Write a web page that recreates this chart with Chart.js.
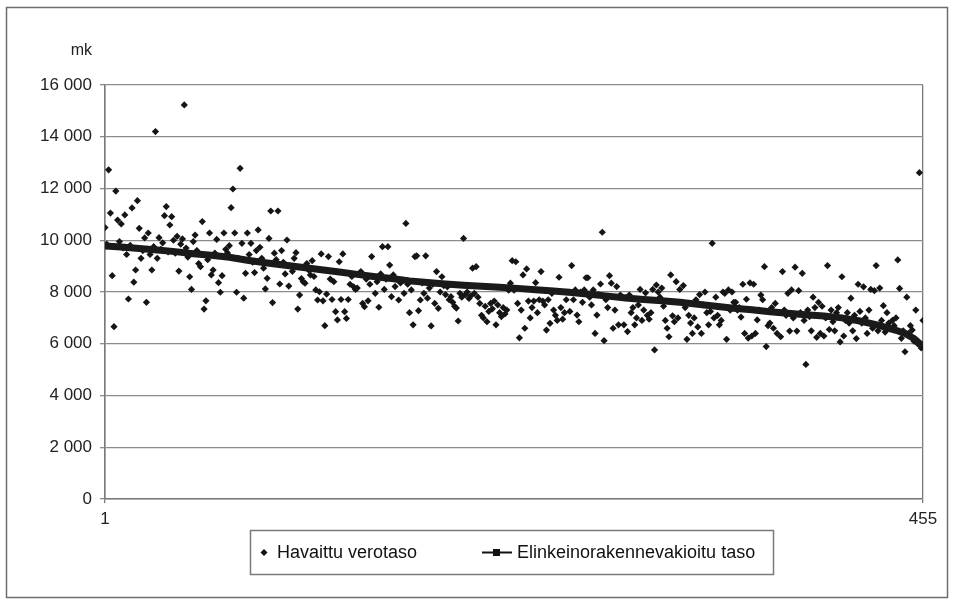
<!DOCTYPE html>
<html>
<head>
<meta charset="utf-8">
<script src="https://cdn.jsdelivr.net/npm/chart.js@4/dist/chart.umd.min.js"></script>
<style>
  html, body { margin: 0; padding: 0; background: #ffffff; }
  #wrap { width: 955px; height: 605px; position: relative; }
</style>
</head>
<body>
<div id="wrap"><canvas id="c" width="955" height="605"></canvas></div>
<script>
// ---- data ----
const seriesNames = ['Havaittu verotaso', 'Elinkeinorakennevakioitu taso'];
const unitLabel = 'mk';
const xTickValues = [1, 455];
const yMin = 0, yMax = 16000, yStep = 2000;

// observed tax level per municipality (rank 1..455)
const observed = [
10490, 9850, 12720, 11050, 8630, 6660, 11900, 10780, 9950, 10630,
9700, 10980, 9450, 7730, 9800, 11250, 8380, 8850, 11530, 10460,
9300, 9600, 10090, 7600, 10280, 9450, 8850, 9750, 14200, 9300,
10100, 9650, 9900, 10950, 11300, 9550, 10590, 10910, 10000, 9500,
10150, 8810, 9850, 10050, 15230, 9700, 9350, 8590, 8100, 9950,
10200, 9600, 9100, 8980, 10720, 7340, 7660, 9250, 10280, 8660,
8850, 9500, 10030, 8360, 7990, 8630, 10280, 9650, 9510, 9790,
11260, 11980, 10280, 7990, 9300, 12780, 9880, 7760, 8720, 10280,
9450, 9880, 9150, 8750, 9600, 10400, 9730, 9300, 8920, 8120,
8530, 10070, 11130, 7590, 9500, 9250, 11130, 8310, 9600, 9150,
8700, 10010, 8230, 9000, 8800, 9300, 9520, 7340, 7880, 8520,
8400, 8340, 9100, 8850, 8660, 9210, 8600, 8080, 7690, 8010,
9470, 7660, 6700, 7920, 9370, 8500, 7710, 8400, 7240, 6920,
9170, 7710, 9470, 7240, 6980, 7710, 8300, 8600, 8200, 8100,
8150, 8700, 8790, 7560, 7430, 8500, 7660, 8300, 9370, 8600,
7950, 8400, 7410, 8700, 9750, 8100, 8500, 9750, 9040, 7820,
8660, 8210, 8500, 7690, 8350, 8460, 7950, 10650, 8300, 7200,
8080, 6730, 9370, 9400, 7280, 7690, 8350, 7950, 9400, 7760,
8150, 6690, 8300, 7560, 8790, 7370, 8000, 8590, 8250, 7900,
8200, 7700, 7820, 7600, 7450, 7380, 6880, 7950, 7800, 10070,
7900, 8000, 7750, 7850, 8920, 7950, 8980, 7800, 7560, 7100,
7000, 7450, 6850, 7250, 7560, 7350, 7650, 6730, 7500, 7200,
7050, 7400, 7150, 7300, 8070, 8340, 9210, 8070, 9170, 7560,
6230, 7300, 8660, 6600, 8890, 7650, 7000, 7400, 7650, 8360,
7200, 7700, 8790, 7650, 7500, 6530, 7700, 6790, 7950, 7300,
7100, 6900, 8570, 7400, 6950, 7200, 7700, 8000, 7250, 9020,
7700, 8080, 7110, 6850, 8000, 7600, 8080, 8550, 8550, 7800,
7500, 8080, 6400, 7110, 7900, 8310, 10310, 6120, 7700, 7400,
8630, 8340, 6600, 7300, 8210, 6730, 7880, 7800, 6730, 7770,
6470, 7880, 7200, 7400, 6730, 7000, 7500, 8100, 6900, 7300,
7970, 7100, 6950, 7200, 8100, 5760, 8270, 8000, 7800, 8150,
7450, 6900, 6600, 6270, 8660, 7080, 6850, 8400, 7000, 8100,
7600, 8250, 7400, 6170, 7100, 6800, 6400, 7000, 7700, 6650,
7900, 6400, 7500, 8000, 7200, 6730, 7250, 9880, 7000, 7800,
7100, 6730, 6900, 8000, 7950, 6170, 8080, 7300, 8000, 7600,
7600, 7300, 7400, 7030, 8300, 6400, 7720, 6220, 8350, 6300,
8300, 6400, 6920, 7300, 7880, 7700, 8980, 5890, 6700, 6800,
7400, 6600, 7560, 6400, 7200, 6270, 8790, 7300, 7100, 7950,
6490, 8080, 7000, 8960, 6490, 8050, 7200, 8720, 6900, 5200,
7300, 7050, 6500, 7800, 7400, 6250, 7600, 6400, 7450, 6300,
7000, 9020, 6550, 7300, 6850, 6500, 7200, 7400, 6070, 8590,
6300, 6900, 7200, 6800, 7760, 6500, 7100, 6200, 8300, 7250,
6800, 8200, 7000, 6400, 7300, 8100, 6600, 8050, 9020, 6500,
8150, 6900, 7470, 6450, 7200, 6800, 6600, 6900, 6700, 7000,
9240, 8140, 6210, 6500, 5690, 7800, 6400, 6700, 6530, 6100,
7300, 6000, 12610, 5840, 6900
];

// structure-adjusted level, read at sampled ranks
const adjustedRank = [1, 10, 20, 30, 40, 50, 60, 70, 80, 90, 100, 110, 120, 130, 140, 150, 160, 170, 180, 190,
  200, 210, 220, 230, 240, 250, 260, 270, 280, 290, 300, 310, 320, 330, 340, 350, 360, 370, 380, 390,
  400, 410, 420, 430, 440, 445, 450, 455];
const adjustedValue = [9780, 9740, 9680, 9620, 9560, 9480, 9420, 9340, 9230, 9130, 9040, 8960, 8870, 8780, 8690, 8600, 8520, 8430, 8370, 8310,
  8260, 8220, 8180, 8140, 8090, 8040, 7980, 7910, 7840, 7770, 7710, 7660, 7600, 7530, 7450, 7370, 7310, 7240, 7180, 7120,
  7070, 7000, 6880, 6720, 6520, 6400, 6200, 5900];

// ---- build chart ----
const FONT = "'Liberation Sans', Arial, Helvetica, sans-serif";
const scatterPts = observed.map((v, i) => ({ x: i + 1, y: v }));
const linePts = adjustedRank.map((r, i) => ({ x: r, y: adjustedValue[i] }));
const fmt = v => String(v).replace(/\B(?=(\d{3})+(?!\d))/g, ' ');

const framePlugin = {
  id: 'frame',
  beforeDraw(chart) {
    const ctx = chart.ctx;
    ctx.save();
    ctx.fillStyle = '#ffffff';
    ctx.fillRect(0, 0, chart.width, chart.height);
    ctx.restore();
  },
  afterDraw(chart) {
    const ctx = chart.ctx;
    ctx.save();
    // outer frame
    ctx.strokeStyle = '#6e6e6e';
    ctx.lineWidth = 1.5;
    ctx.strokeRect(6.5, 7.5, 941, 590);
    // unit label
    ctx.fillStyle = '#222';
    ctx.font = '16px ' + FONT;
    ctx.textAlign = 'right';
    ctx.textBaseline = 'middle';
    ctx.fillText(unitLabel, 92, 51);
    // legend
    const lx = 250.5, ly = 530.5, lw = 523, lh = 44;
    ctx.strokeStyle = '#7a7a7a';
    ctx.lineWidth = 1.5;
    ctx.strokeRect(lx, ly, lw, lh);
    const cy = ly + lh / 2;
    const ds = chart.data.datasets;
    const scat = ds.find(d => d.type === 'scatter');
    const line = ds.find(d => d.type === 'line');
    ctx.fillStyle = '#111';
    // diamond
    ctx.beginPath();
    ctx.moveTo(264, cy - 3.5); ctx.lineTo(267.5, cy); ctx.lineTo(264, cy + 3.5); ctx.lineTo(260.5, cy);
    ctx.closePath(); ctx.fill();
    ctx.font = '18px ' + FONT;
    ctx.textAlign = 'left';
    ctx.fillStyle = '#111';
    ctx.fillText(scat.label, 277, cy + 1);
    // line with square
    ctx.strokeStyle = '#111';
    ctx.lineWidth = 2;
    ctx.beginPath(); ctx.moveTo(482, cy); ctx.lineTo(512, cy); ctx.stroke();
    ctx.fillRect(493, cy - 3.5, 7, 7);
    ctx.fillText(line.label, 517, cy + 1);
    ctx.restore();
  }
};

new Chart(document.getElementById('c'), {
  data: {
    datasets: [
      {
        type: 'line',
        label: seriesNames[1],
        data: linePts,
        borderColor: '#1a1a1a',
        backgroundColor: '#1a1a1a',
        borderWidth: 7,
        pointRadius: 0,
        tension: 0,
        order: 0
      },
      {
        type: 'scatter',
        label: seriesNames[0],
        data: scatterPts,
        pointStyle: 'rectRot',
        pointRadius: 3.6,
        pointBorderWidth: 0,
        backgroundColor: '#151515',
        borderColor: '#151515',
        order: 1
      }
    ]
  },
  options: {
    responsive: false,
    animation: false,
    events: [],
    layout: { padding: { left: 0, top: 85, right: 32, bottom: 76 } },
    plugins: { legend: { display: false }, tooltip: { enabled: false } },
    scales: {
      x: {
        type: 'linear',
        min: xTickValues[0],
        max: xTickValues[xTickValues.length - 1],
        afterBuildTicks: s => { s.ticks = xTickValues.map(v => ({ value: v })); },
        afterFit: s => { s.height = 30; },
        grid: { color: '#7a7a7a', lineWidth: 1.3, tickLength: 4, drawOnChartArea: true },
        border: { color: '#7a7a7a', width: 1.5 },
        ticks: { color: '#222', font: { family: FONT, size: 17 }, padding: 6, maxRotation: 0,
          callback: v => String(v) }
      },
      y: {
        type: 'linear',
        min: yMin, max: yMax,
        ticks: { stepSize: yStep, color: '#222', font: { family: FONT, size: 17 }, padding: 8,
          callback: v => fmt(v) },
        afterFit: s => { s.width = 105; },
        grid: { color: '#8c8c8c', lineWidth: 1.3, tickLength: 5 },
        border: { color: '#7a7a7a', width: 1.5 }
      }
    }
  },
  plugins: [framePlugin]
});
</script>
</body>
</html>
